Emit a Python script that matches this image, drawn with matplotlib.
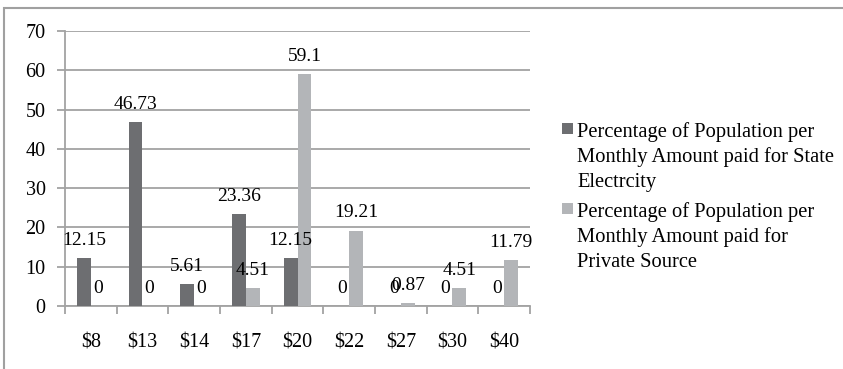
import matplotlib
matplotlib.use("Agg")
import matplotlib.pyplot as plt
import numpy as np
from matplotlib.patches import Rectangle

categories = ["$8", "$13", "$14", "$17", "$20", "$22", "$27", "$30", "$40"]
state = [12.15, 46.73, 5.61, 23.36, 12.15, 0, 0, 0, 0]
private = [0, 0, 0, 4.51, 59.1, 19.21, 0.87, 4.51, 11.79]
legend_state = ["Percentage of Population per", "Monthly Amount paid for State", "Electrcity"]
legend_private = ["Percentage of Population per", "Monthly Amount paid for", "Private Source"]

W, H = 843, 369
DPI = 100
plt.rcParams['font.family'] = ['Liberation Serif', 'DejaVu Serif']

dark = '#6d6e71'
light = '#b3b5b8'
grid = '#a3a3a3'

fig = plt.figure(figsize=(W / DPI, H / DPI), dpi=DPI)

def fx(x):
    return x / W

def fy(y):
    return 1 - y / H

ax = fig.add_axes([fx(65), fy(306), fx(530) - fx(65), fy(31) - fy(306)])

x = np.arange(len(categories))
bw = 0.27
ax.bar(x - bw / 2, state, bw, color=dark, zorder=3)
ax.bar(x + bw / 2, private, bw, color=light, zorder=3)

for xi, v in zip(x - bw / 2, state):
    ax.annotate(f"{v:g}", (xi, v), xytext=(0, 9.4), textcoords='offset points',
                ha='center', va='baseline', fontsize=14, color='black', zorder=4)
for xi, v in zip(x + bw / 2, private):
    ax.annotate(f"{v:g}", (xi, v), xytext=(0, 9.4), textcoords='offset points',
                ha='center', va='baseline', fontsize=14, color='black', zorder=4)

ax.set_xlim(-0.5, len(categories) - 0.5)
ax.set_ylim(0, 70)
ax.set_yticks(np.arange(0, 71, 10))
ax.yaxis.grid(True, color=grid, linewidth=1.3, zorder=0)
ax.set_axisbelow(True)

ax.set_xticks(x)
ax.set_xticklabels(categories, fontsize=14.5)
ax.set_xticks(np.arange(-0.5, len(categories), 1), minor=True)
ax.tick_params(axis='x', which='major', length=0, pad=20)
ax.tick_params(axis='x', which='minor', length=6, width=1.3, color=grid, direction='out')
ax.tick_params(axis='y', which='major', length=6, width=1.3, color=grid, pad=8, labelsize=14.5)

for s in ['top', 'right']:
    ax.spines[s].set_visible(False)
ax.spines['left'].set_color(grid)
ax.spines['left'].set_linewidth(1.3)
ax.spines['bottom'].set_color(grid)
ax.spines['bottom'].set_linewidth(1.3)

# outer border
fig.patches.append(Rectangle((fx(4), fy(400)), fx(900), fy(8) - fy(400),
                             transform=fig.transFigure, fill=False,
                             edgecolor='#a0a0a0', linewidth=1.5))

# legend
def legend_entry(lines, color, y0):
    fig.patches.append(Rectangle((fx(562), fy(y0 - 3)), fx(11), fy(0) - fy(11),
                                 transform=fig.transFigure, facecolor=color,
                                 edgecolor='none'))
    for i, t in enumerate(lines):
        fig.text(fx(577), fy(y0 + 25 * i), t, fontsize=14.8, va='baseline',
                 ha='left', color='black')

legend_entry(legend_state, dark, 137)
legend_entry(legend_private, light, 217)

fig.savefig("out.png", dpi=DPI)
